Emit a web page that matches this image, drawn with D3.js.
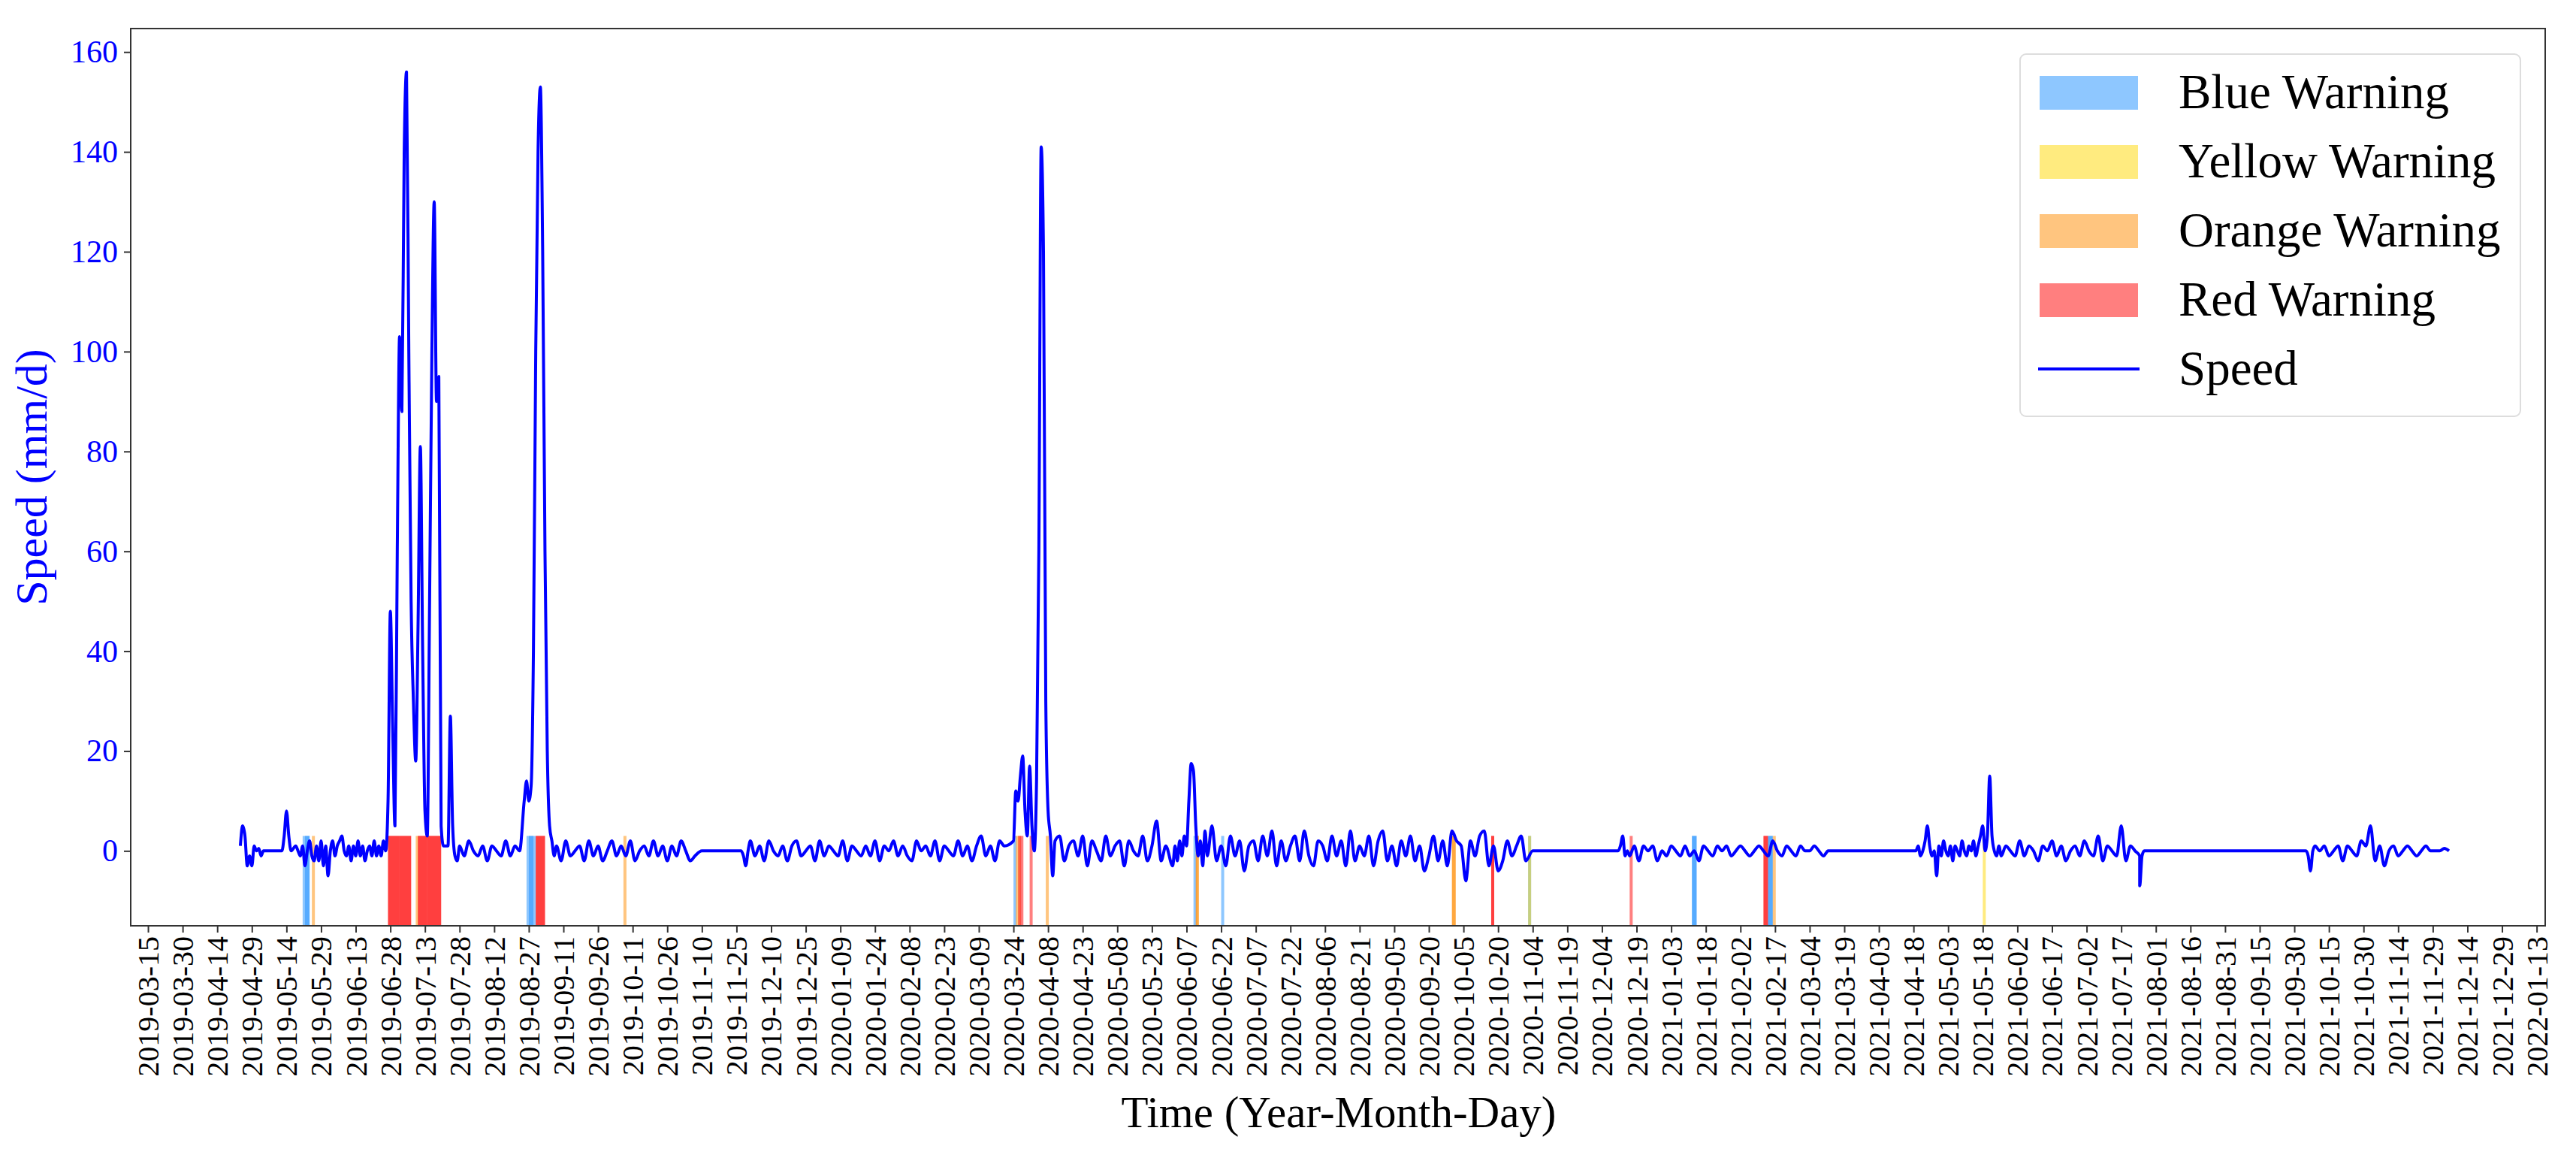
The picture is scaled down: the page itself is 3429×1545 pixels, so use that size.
<!DOCTYPE html>
<html><head><meta charset="utf-8">
<script src="https://cdn.jsdelivr.net/npm/d3@7"></script>
<style>body{margin:0;background:#fff}</style></head>
<body><svg id="c" width="3429" height="1545"></svg>
<script>
// ---- DATA ----
const baseDate = "2019-03-15"; // day 0
const tickLabels = (() => { const a=[]; const b=new Date(Date.UTC(2019,2,15)); for(let k=0;k<70;k++){const d=new Date(b.getTime()+k*15*864e5); a.push(d.toISOString().slice(0,10));} return a; })();
const yTicks = [0,20,40,60,80,100,120,140,160];
// speed segments: [startDay, stepDays, values]
const speedSegments = [
 [40,1,[1,5,3,-3,-1,-3,1,0,0.5,-1,0]],
 [58,1,[0,3,8,3,0]],
 [64,1,[1,0,-1,1,-3,0,2,-1,-2,1,-2,2,-3,1,-5,0,2,-1,1,2,3,0,-1,1,-2,1,-1,2,-1,1,-2,0,1,-1,2,-1,1,-1,2,0]],
 [104,1,[10,48,25,5,60,103,88,140,156,100,50,30,18,45,81,40,8,3,50,100,130,90,95,5,1,1,1,27,5,-1,-2]],
 [135,2,[1,-1,2,0,-1,1,-2,1,0,-1,2,-1,1,0]],
 [163,1,[10,14,10,13,40,100,140,153,120,60,20,5,2,-1]],
 [177,2,[1,-2,2,-1,0,1,-2,2,-1,1,-2,0,2,-1,1,-1,2,-2,0,1,-1,2,-1,1,-2,1,-1,2,0,-2,-1]],
 [240,1,[0]],[257,1,[0,-1,-3,0]],
 [261,2,[2,-1,1,-2,2,0,-1,1,-2,1,2,-1,0,1,-2,2,-1,1,0,-1,2,-2,1,0,-1,1,-1,2,-2,1,0,2,-1,1,-1,-2,2,0,1,-1,2,-2,1,0,-1,2,-1,1,-2,1,3,-1,1,-2,2,1]],
 [375,1,[2,12,10,15,19,8,3,17,5,0,14,60,141,120,30,8,3,-5,2]],
 [395,2,[3,-2,1,2,-1,3,-3,2,0,-2,3,-1,1,2,-3,2,0,-1,3,-2,1,6,-2,1]],
 [444,1,[-3,1,-2,2,-1,3,1,10,17.5,16,5,-1,2,-3,4,-1]],
 [461,2,[5,-2,1,-3,3,-1,2,-4,1,2,-2,3,-1,4,-3,2,-2,1,3,-2,4,-1,-3,2,1,-2,3,-1,2,-3,4,-2,1,-1,3,-3,2,4,-2,1,-3,2,-1,3,-2,1,-4,-1,3,-2,2,-3,4,2,1,-6,2,-1,3,4,-3,1,-4,-2,2,-1,1,3,-2]],
 [600,1,[0]],[637,1,[0,1,3,-1,0]],
 [642,2,[-1,1,-2,1,0,1,-2,0,-1,1,0,-1,1,-1,0,-2,1,0,-1,1,0,1,-1,0,1,0,-1,0,1,0,-1,2,0,-1,1,0,-1,1,0,0,1,0,-1,0]],
 [740,1,[0]],[766,1,[0,1,-1,0,2,5,1,-1,0,-5,1,-1,2,0,-1,1,-2,1,0,-1,2,0,-1,1,0,2,-1,1,3,5,0,3,15,3,0,-1,1]],
 [803,2,[-1,1,0,-1,2,-1,1,0,-2,1,0,2,-1,1,-2,0,1,-1,2,0,-1,3,-2,1,0,-1,5,-2,1,0,-1]],
 [863,1,[-7,-1,0]],[935,1,[0,-1,-4,0,1]],
 [941,2,[0,1,-1,0,1,-2,1,0,-1,2,1,5,-2,1,-3,0,1,-1,0,1,0,-1,0,1,0,0,0,0.5,0]]
];
// warnings: [startDate, days, type]
const warnStart = ["2019-05-21","2019-05-22","2019-05-25","2019-06-27","2019-06-27","2019-07-02","2019-07-02","2019-07-09","2019-07-10","2019-07-10","2019-07-14","2019-07-14","2019-08-26","2019-08-27","2019-08-30","2019-08-30","2019-10-07",
 "2020-03-24","2020-03-25","2020-03-26","2020-03-27","2020-03-31","2020-04-07","2020-06-10","2020-06-11","2020-06-11","2020-06-22",
 "2020-09-30","2020-09-30","2020-10-17","2020-10-17","2020-11-02","2020-11-02","2020-12-16","2021-01-12","2021-01-12","2021-02-12","2021-02-12","2021-02-14","2021-02-14","2021-02-16","2021-05-18"];
const warnDays = [3,2,1.3,5,5,5,5,1.3,4,4,6,6,3,3,4,4,1.3,
 1.3,2,1.3,1.3,1.3,1.3,1.3,1.3,1.3,1.3,
 1.6,1.6,1.3,1.3,1.3,1.3,1.3,2,2,2,2,2,2,1.3,1.3];
const warnType = ["blue","blue","orange","red","red","red","red","orange","red","red","red","red","blue","blue","red","red","orange",
 "blue","orange","red","red","red","orange","blue","orange","orange","blue",
 "orange","orange","red","red","blue","yellow","red","blue","blue","red","red","blue","blue","orange","yellow"];
const legendLabels = ["Blue Warning","Yellow Warning","Orange Warning","Red Warning","Speed"];
// ---- CHART ----
const colors = {blue:"#1e90ff",yellow:"#ffd700",orange:"#ff8c00",red:"#ff0000"};
const svg = d3.select("#c");
const M = {l:174,r:3388,t:38,b:1232};
const day0 = new Date(Date.UTC(2019,2,15));
const toDate = d => new Date(day0.getTime()+d*864e5);
const x = d3.scaleUtc().domain([toDate(-7.5), toDate(1038.7)]).range([M.l,M.r]);
const y = d3.scaleLinear().domain([-15,164.7]).range([M.b,M.t]);
const font = "Liberation Serif, Times New Roman, serif";
const pts = [];
speedSegments.forEach(([s,st,v]) => v.forEach((val,i)=>pts.push([s+i*st,val])));
pts.sort((a,b)=>a[0]-b[0]);
const wd = warnStart.map((s,i)=>({d:new Date(s+"T00:00:00Z"),n:warnDays[i],t:warnType[i]}));
svg.append("g").selectAll("rect").data(wd).join("rect")
 .attr("x",d=>x(d.d)).attr("width",d=>x(new Date(d.d.getTime()+d.n*864e5))-x(d.d))
 .attr("y",y(3)).attr("height",y(-15)-y(3)).attr("fill",d=>colors[d.t]).attr("opacity",0.5);
const line = d3.line().x(d=>x(toDate(d[0]))).y(d=>y(d[1])).curve(d3.curveMonotoneX);
svg.append("path").datum(pts).attr("d",line).attr("fill","none").attr("stroke","#0000ff").attr("stroke-width",4).attr("stroke-linejoin","round");
svg.append("rect").attr("x",M.l).attr("y",M.t).attr("width",M.r-M.l).attr("height",M.b-M.t).attr("fill","none").attr("stroke","#333").attr("stroke-width",2);
const gy = svg.append("g").attr("transform",`translate(${M.l},0)`).call(d3.axisLeft(y).tickValues(yTicks).tickSize(9).tickPadding(8));
gy.select(".domain").remove();
gy.selectAll("text").attr("font-family",font).attr("font-size",42).attr("fill","#0000ff");
gy.selectAll("line").attr("stroke","#333").attr("stroke-width",2);
const tickDates = tickLabels.map(s=>new Date(s+"T00:00:00Z"));
const gx = svg.append("g").attr("transform",`translate(0,${M.b})`).call(d3.axisBottom(x).tickValues(tickDates).tickFormat(d3.utcFormat("%Y-%m-%d")).tickSize(9));
gx.select(".domain").remove();
gx.selectAll("line").attr("stroke","#333").attr("stroke-width",2);
gx.selectAll("text").attr("font-family",font).attr("font-size",40).attr("fill","#000")
 .attr("transform","rotate(-90)").attr("text-anchor","end").attr("dx",-14).attr("dy",0).attr("y",0).attr("x",0)
 .attr("dominant-baseline","central");
svg.append("text").attr("transform",`translate(62,${(M.t+M.b)/2}) rotate(-90)`).attr("text-anchor","middle")
 .attr("font-family",font).attr("font-size",60).attr("fill","#0000ff").text("Speed (mm/d)");
svg.append("text").attr("x",1782).attr("y",1500).attr("text-anchor","middle").attr("font-family",font).attr("font-size",59).text("Time (Year-Month-Day)");
const lg = svg.append("g");
lg.append("rect").attr("x",2689).attr("y",72).attr("width",666).attr("height",482).attr("rx",8).attr("fill","#fff").attr("fill-opacity",0.8).attr("stroke","#ddd").attr("stroke-width",2);
const lc = [colors.blue,colors.yellow,colors.orange,colors.red];
legendLabels.forEach((lab,i)=>{
 const cy = 123+i*92;
 if(i<4) lg.append("rect").attr("x",2715).attr("y",cy-22).attr("width",131).attr("height",45).attr("fill",lc[i]).attr("opacity",0.5);
 else lg.append("line").attr("x1",2713).attr("x2",2848).attr("y1",cy).attr("y2",cy).attr("stroke","#0000ff").attr("stroke-width",4);
 lg.append("text").attr("x",2900).attr("y",cy+21).attr("font-family",font).attr("font-size",65).text(lab);
});
</script></body></html>
